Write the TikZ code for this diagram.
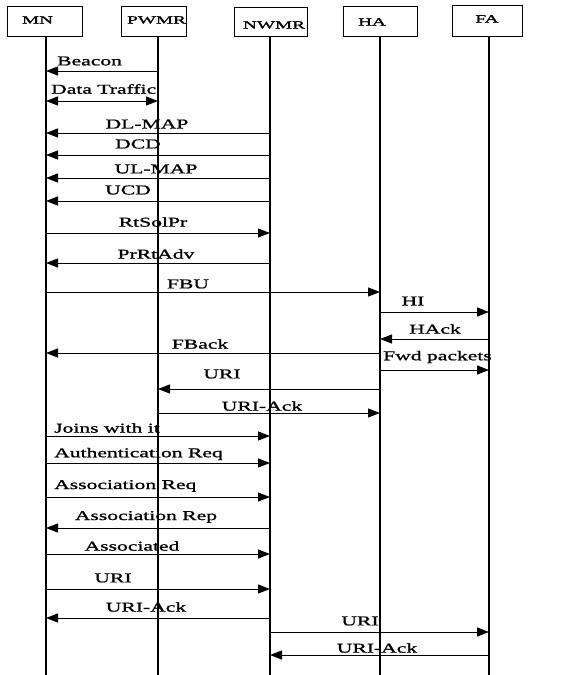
\documentclass[tikz,border=0pt]{standalone}
\usepackage{fontspec}
\setmainfont[FakeStretch=1.6,FakeBold=1.2]{Liberation Serif}
\newfontfamily\boxfont[FakeStretch=1.75,FakeBold=1.5]{Liberation Serif}
\usetikzlibrary{arrows.meta}
\newcommand{\boxtext}[3]{\raisebox{#2}[0pt][0pt]{\makebox[0pt][c]{\hspace*{#1}#3}}}
\begin{document}
\begin{tikzpicture}[x=1pt,y=-1pt,
  box/.style={draw,line width=1pt,inner sep=0pt,font=\boxfont\fontsize{11}{11}\selectfont},
  life/.style={line width=1.3pt},
  msg/.style={line width=1pt,-{Triangle[length=12pt,width=9pt]}},
  both/.style={line width=1pt,{Triangle[length=12pt,width=9pt]}-{Triangle[length=12pt,width=9pt]}},
  lbl/.style={inner sep=0pt,font=\fontsize{13.5}{14}\selectfont}]
\useasboundingbox[fill=white] (0,0) rectangle (560,675);
% boxes
\node[box,minimum width=75pt,minimum height=30pt] (MN) at (44.5,21) {\boxtext{-14pt}{-2.5pt}{MN}};
\node[box,minimum width=65pt,minimum height=30pt] (PWMR) at (153.5,21) {\boxtext{6pt}{-2.5pt}{PWMR}};
\node[box,minimum width=73pt,minimum height=29pt] (NWMR) at (270.5,21.5) {\boxtext{7pt}{-7pt}{NWMR}};
\node[box,minimum width=74pt,minimum height=30pt] (HA) at (380,21) {\boxtext{-16pt}{-4.5pt}{HA}};
\node[box,minimum width=70pt,minimum height=31pt] (FA) at (487,20.5) {\boxtext{0pt}{-2pt}{FA}};
% lifeline tops and bottoms
\coordinate (mn) at (46,36);   \coordinate (mnb) at (46,675);
\coordinate (pw) at (158,36);  \coordinate (pwb) at (158,675);
\coordinate (nw) at (270,36);  \coordinate (nwb) at (270,675);
\coordinate (ha) at (380,36);  \coordinate (hab) at (380,675);
\coordinate (fa) at (489,36);  \coordinate (fab) at (489,675);
\draw[life] (mn) -- (mnb);
\draw[life] (pw) -- (pwb);
\draw[life] (nw) -- (nwb);
\draw[life] (ha) -- (hab);
\draw[life] (fa) -- (fab);
% messages
\draw[msg] (pw |- 0,71) -- (mn |- 0,71);
\node[lbl,anchor=west] (l1) at (57,61) {Beacon};
\draw[both] (mn |- 0,101) -- (pw |- 0,101);
\node[lbl,anchor=west] (l2) at (51,89) {Data Traffic};
\draw[msg] (nw |- 0,133) -- (mn |- 0,133);
\node[lbl] (l3) at (147,124) {DL-MAP};
\draw[msg] (nw |- 0,155) -- (mn |- 0,155);
\node[lbl] (l4) at (138,144) {DCD};
\draw[msg] (nw |- 0,178) -- (mn |- 0,178);
\node[lbl] (l5) at (156,169) {UL-MAP};
\draw[msg] (nw |- 0,201) -- (mn |- 0,201);
\node[lbl] (l6) at (128,190) {UCD};
\draw[msg] (mn |- 0,233) -- (nw |- 0,233);
\node[lbl] (l7) at (153,222) {RtSolPr};
\draw[msg] (nw |- 0,263) -- (mn |- 0,263);
\node[lbl] (l8) at (156,254) {PrRtAdv};
\draw[msg] (mn |- 0,292) -- (ha |- 0,292);
\node[lbl] (l9) at (188,284) {FBU};
\draw[msg] (ha |- 0,312) -- (fa |- 0,312);
\node[lbl] (l10) at (413,301) {HI};
\draw[msg] (fa |- 0,339) -- (ha |- 0,339);
\node[lbl] (l11) at (435,329) {HAck};
\draw[msg] (ha |- 0,353) -- (mn |- 0,353);
\node[lbl] (l12) at (200,344) {FBack};
\draw[msg] (ha |- 0,370) -- (fa |- 0,370);
\node[lbl,anchor=west] (l13) at (383,357) {Fwd packets};
\draw[msg] (ha |- 0,389) -- (pw |- 0,389);
\node[lbl] (l14) at (222,374) {URI};
\draw[msg] (pw |- 0,413) -- (ha |- 0,413);
\node[lbl] (l15) at (262,406) {URI-Ack};
\draw[msg] (mn |- 0,436) -- (nw |- 0,436);
\node[lbl,anchor=west] (l16) at (54,428) {Joins with it};
\draw[msg] (mn |- 0,463) -- (nw |- 0,463);
\node[lbl,anchor=west] (l17) at (54,454) {Authentication Req};
\draw[msg] (mn |- 0,497) -- (nw |- 0,497);
\node[lbl,anchor=west] (l18) at (54,486) {Association Req};
\draw[msg] (nw |- 0,528) -- (mn |- 0,528);
\node[lbl] (l19) at (146,517) {Association Rep};
\draw[msg] (mn |- 0,554) -- (nw |- 0,554);
\node[lbl] (l20) at (132,546) {Associated};
\draw[msg] (mn |- 0,589) -- (nw |- 0,589);
\node[lbl] (l21) at (113,578) {URI};
\draw[msg] (nw |- 0,618) -- (mn |- 0,618);
\node[lbl] (l22) at (146,607) {URI-Ack};
\draw[msg] (nw |- 0,632) -- (fa |- 0,632);
\node[lbl] (l23) at (360,621) {URI};
\draw[msg] (fa |- 0,655) -- (nw |- 0,655);
\node[lbl] (l24) at (377,648) {URI-Ack};
\end{tikzpicture}
\end{document}
